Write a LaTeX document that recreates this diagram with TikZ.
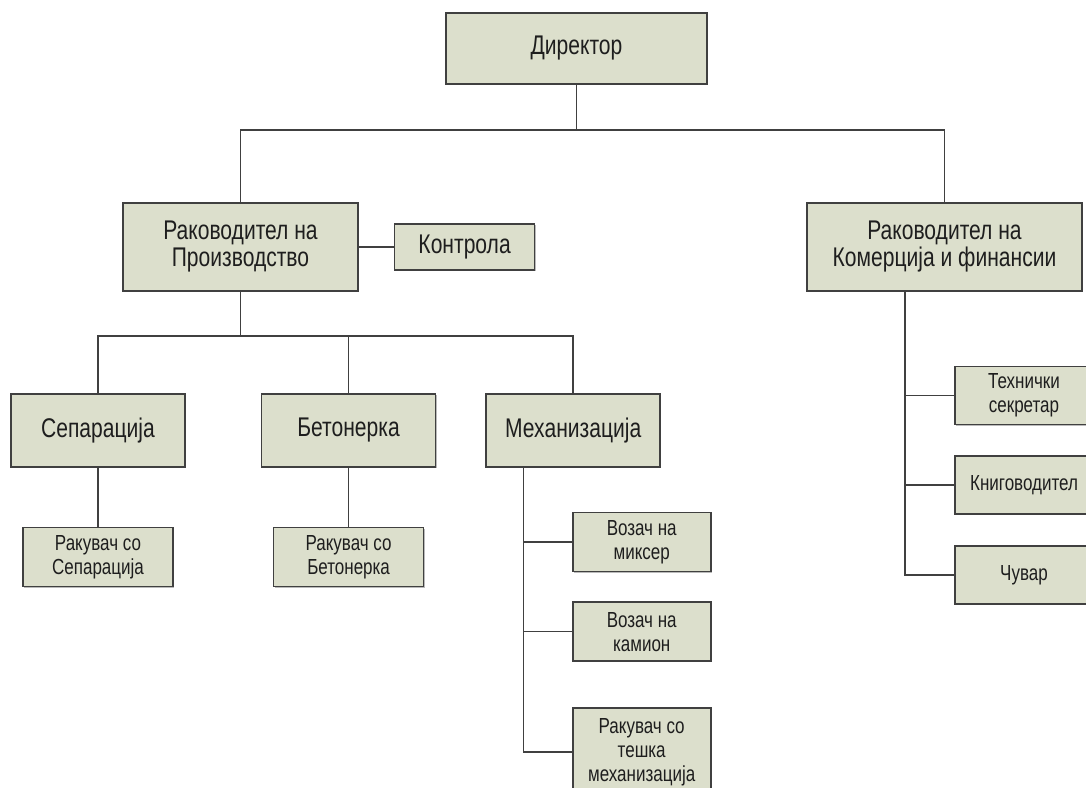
\documentclass[tikz,border=0pt]{standalone}
\usepackage{fontspec}
\setmainfont{Liberation Sans}[FakeStretch=0.78]
\usetikzlibrary{positioning, calc, shadows}
\definecolor{boxfill}{RGB}{220,223,204}
\definecolor{boxline}{RGB}{64,64,64}
\definecolor{boxtext}{RGB}{30,30,30}

\begin{document}
\begin{tikzpicture}[x=0.5pt, y=-0.5pt, node distance=15pt,
  bigbox/.style={rectangle, draw=boxline, line width=0.8pt, fill=boxfill, text=boxtext, align=center, inner sep=0pt,
    font=\fontsize{13.5}{13.5}\selectfont,
    drop shadow={shadow xshift=0.6pt, shadow yshift=-0.6pt, fill=black!60, opacity=0.45}},
  dept/.style={bigbox, minimum width=87pt, minimum height=36.5pt},
  smallbox/.style={bigbox, font=\fontsize{10.9}{12}\selectfont, minimum width=69pt, minimum height=29.5pt},
  link/.style={draw=boxline, line width=0.75pt}]
\useasboundingbox (0,0) rectangle (1086,787);

% Director
\node[bigbox, minimum width=130.5pt, minimum height=35.5pt] (dir) at (576.5,48.5) {Директор};

% Managers
\node[bigbox, minimum width=117.5pt, minimum height=44pt] (prod) at (240.5,247) {Раководител на\\Производство};
\node[bigbox, minimum width=70pt, minimum height=23pt, right=17.5pt of prod] (kontr) {Контрола};
\node[bigbox, minimum width=137.5pt, minimum height=44pt] (kom) at (944.5,247) {Раководител на\\Комерција и финансии};

% Departments
\node[dept] (sep) at (98,430.5) {Сепарација};
\node[dept, right=37.5pt of sep] (bet) {Бетонерка};
\node[dept, right=24.5pt of bet] (meh) {Механизација};

% Workers
\node[smallbox, minimum width=75pt, below=29.5pt of sep] (rsep) {Ракувач со\\Сепарација};
\node[smallbox, minimum width=75pt, below=29.5pt of bet] (rbet) {Ракувач со\\Бетонерка};
\node[smallbox, below=22pt of meh, xshift=34.25pt] (miks) {Возач на\\миксер};
\node[smallbox, below=14.5pt of miks] (kam) {Возач на\\камион};
\node[smallbox, minimum height=44pt, below=22.5pt of kam] (tesk) {Ракувач со\\тешка\\механизација};

% Commerce staff
\node[smallbox, minimum height=29pt, below=37pt of kom, xshift=39.75pt] (teh) {Технички\\секретар};
\node[smallbox, minimum height=29pt, below=15pt of teh] (knig) {Книговодител};
\node[smallbox, minimum height=29pt, below=15pt of knig] (cuv) {Чувар};

% Lines from director
\draw[link] (dir.south) -- ++(0,45) coordinate (topbar) -| (prod.north);
\draw[link] (topbar) -| (kom.north);

% Lines for production
\draw[link] (prod.east) -- (kontr.west);
\draw[link] (prod.south) -- ++(0,44) coordinate (prodbar) -| (sep.north);
\draw[link] (prodbar) -| (bet.north);
\draw[link] (prodbar) -| (meh.north);
\draw[link] (sep.south) -- (rsep.north);
\draw[link] (bet.south) -- (rbet.north);

% Lines for mechanisation
\coordinate (mehtrunk) at ([xshift=19pt]meh.south west);
\draw[link] (mehtrunk) |- (tesk.west);
\draw[link] (mehtrunk |- miks.west) -- (miks.west);
\draw[link] (mehtrunk |- kam.west) -- (kam.west);

% Lines for commerce
\coordinate (komtrunk) at ([xshift=49.5pt]kom.south west);
\draw[link] (komtrunk) |- (cuv.west);
\draw[link] (komtrunk |- teh.west) -- (teh.west);
\draw[link] (komtrunk |- knig.west) -- (knig.west);
\end{tikzpicture}
\end{document}
